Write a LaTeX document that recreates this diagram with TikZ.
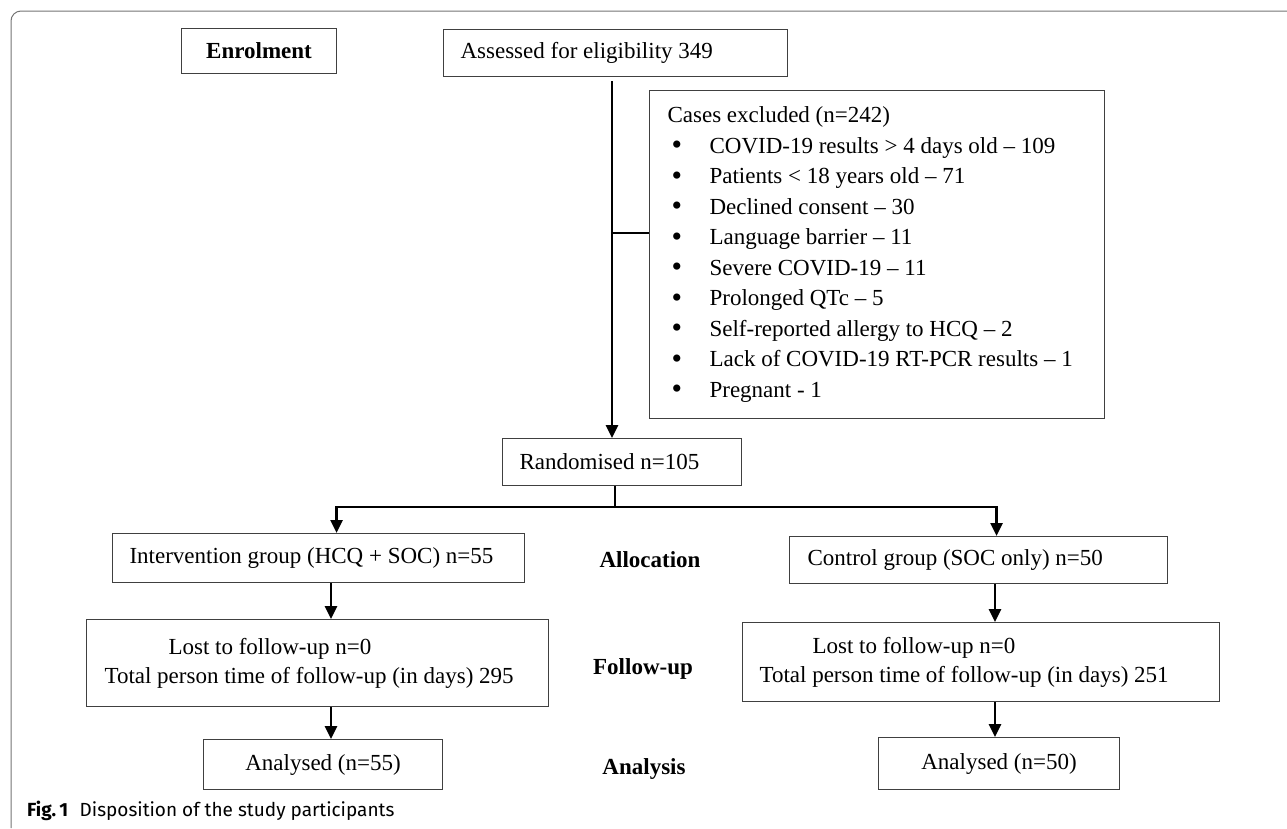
\documentclass[tikz,border=0pt]{standalone}
\usepackage{fontspec}
\setmainfont{Liberation Serif}
\setsansfont{Fira Sans}
\usetikzlibrary{arrows.meta}

\newcommand{\exitem}[1]{\hspace*{4pt}\makebox[38pt][l]{\raisebox{-1.5pt}{\fontsize{30}{30}\selectfont\textbullet}}#1}

\begin{document}
\begin{tikzpicture}[x=1pt, y=-1pt,
    box/.style={draw=black!75, line width=1.1pt, anchor=north west, inner ysep=0pt,
        font=\fontsize{23}{30.5}\selectfont},
    link/.style={line width=2.6pt},
    flow/.style={link, -{Triangle[length=13pt,width=12pt]}},
    stage/.style={font=\fontsize{23}{28}\selectfont\bfseries}]

            \useasboundingbox (0,0) rectangle (1287,828);

            \draw[draw=black!55, line width=1pt, rounded corners=10pt] (1287,11) -- (11,11) -- (11,828);

            \node[box, minimum width=155pt, minimum height=45pt, inner xsep=0pt, align=center] (enrol) at (181,28) {\bfseries Enrolment};

            \node[box, minimum width=344pt, minimum height=47pt, inner xsep=17pt] (assess) at (443,29) {\makebox[310pt][l]{Assessed for eligibility 349}};

            \node[box, minimum width=455pt, minimum height=328pt, inner xsep=0pt, align=left] (excl) at (649,90) {\makebox[419pt][l]{Cases excluded (n=242)}\\
                \exitem{COVID-19 results > 4 days old – 109}\\
                \exitem{Patients < 18 years old – 71}\\
                \exitem{Declined consent – 30}\\
                \exitem{Language barrier – 11}\\
                \exitem{Severe COVID-19 – 11}\\
                \exitem{Prolonged QTc – 5}\\
                \exitem{Self-reported allergy to HCQ – 2}\\
                \exitem{Lack of COVID-19 RT-PCR results – 1}\\
                \exitem{Pregnant - 1}};

            \node[box, minimum width=239pt, minimum height=47pt, inner xsep=17pt] (rand) at (502,438) {\makebox[205pt][l]{Randomised n=105}};

            \node[box, minimum width=412pt, minimum height=49pt, inner xsep=17pt] (interv) at (112,533) {\makebox[378pt][l]{Intervention group (HCQ + SOC) n=55}};

            \node[box, minimum width=378pt, minimum height=47pt, inner xsep=18pt] (ctrl) at (789,536) {\makebox[342pt][l]{Control group (SOC only) n=50}};

            \node[box, minimum width=462pt, minimum height=87pt, inner xsep=18pt, align=left] (fuL) at (86,619) {\makebox[426pt][l]{\hspace*{64pt}Lost to follow-up n=0}\\[-1.5pt]\makebox[426pt][l]{Total person time of follow-up (in days) 295}};

            \node[box, minimum width=477pt, minimum height=79pt, inner xsep=17pt, align=left] (fuR) at (742,622) {\makebox[443pt][l]{\hspace*{53pt}Lost to follow-up n=0}\\[-1.5pt]\makebox[443pt][l]{Total person time of follow-up (in days) 251}};

            \node[box, minimum width=239pt, minimum height=50pt, inner xsep=0pt, align=center] (anL) at (203,739) {Analysed (n=55)};

            \node[box, minimum width=241pt, minimum height=52pt, inner xsep=0pt, align=center] (anR) at (878,737) {Analysed (n=50)};

            \node[stage] (alloc) at (650,560) {Allocation};

            \node[stage] (follow) at (643,669) {Follow-up};

            \node[stage] (analysis) at (644,769) {Analysis};

            \node[anchor=west, inner sep=0pt, font=\sffamily\fontsize{19}{22}\selectfont] (caption) at (27,811) {{\bfseries Fig.\,1}\hspace{0.6em}Disposition of the study participants};

            \coordinate (trunk) at (612,0);
            \coordinate (brk) at (612,233);
            \coordinate (split) at (615,507);
            \coordinate (lcol) at (331,0);
            \coordinate (rcol) at (995,0);

            \draw[flow, shorten <=4pt] (assess.south -| trunk) -- (rand.north -| trunk);

            \draw[link] (brk) -- (brk -| excl.west);

            \draw[link] (rand.south -| split) -- (split);

            \draw[flow] (split) -| ([xshift=18pt]interv.north);

            \draw[flow] (split) -| ([xshift=18pt]ctrl.north);

            \draw[flow] (interv.south -| lcol) -- (fuL.north -| lcol);

            \draw[flow] (fuL.south -| lcol) -- (anL.north -| lcol);

            \draw[flow] (ctrl.south -| rcol) -- (fuR.north -| rcol);

            \draw[flow] (fuR.south -| rcol) -- (anR.north -| rcol);
\end{tikzpicture}
\end{document}
